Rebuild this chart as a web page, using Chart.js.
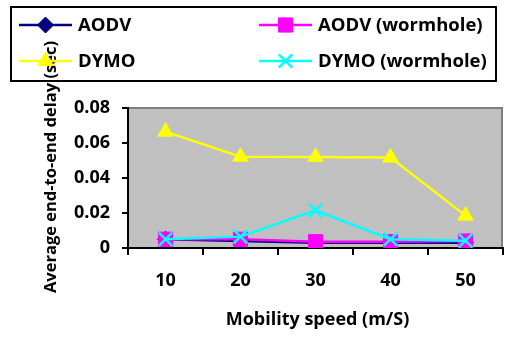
<!DOCTYPE html>
<html>
<head>
<meta charset="utf-8">
<script src="https://cdn.jsdelivr.net/npm/chart.js@4/dist/chart.umd.min.js"></script>
<style>
html,body{margin:0;padding:0;background:#fff;}
#wrap{width:515px;height:338px;position:relative;}
</style>
</head>
<body>
<div id="wrap"><canvas id="c" width="515" height="338"></canvas></div>
<script>
const categories = ['10', '20', '30', '40', '50'];
const aodv = [0.005, 0.004, 0.003, 0.003, 0.003];
const aodvWormhole = [0.005, 0.005, 0.0036, 0.0036, 0.004];
const dymo = [0.0665, 0.0522, 0.052, 0.0517, 0.0185];
const dymoWormhole = [0.005, 0.0065, 0.0215, 0.005, 0.0042];
const yTickValues = [0, 0.02, 0.04, 0.06, 0.08];
const yTickLabels = ['0', '0.02', '0.04', '0.06', '0.08'];
const xTitle = 'Mobility speed (m/S)';
const yTitle = 'Average end-to-end delay (sec)';
const seriesNames = ['AODV', 'AODV (wormhole)', 'DYMO', 'DYMO (wormhole)'];

const FONT = '"Open Sans", Lato, sans-serif';

function ds(label, data, color, style, radius, order) {
  return {
    label, data,
    borderColor: color, backgroundColor: color,
    pointBackgroundColor: color, pointBorderColor: color,
    pointStyle: style, pointRadius: radius, pointHoverRadius: radius,
    pointBorderWidth: style === 'crossRot' ? 2.5 : 1,
    borderWidth: 2.5, tension: 0, fill: false, order
  };
}

const datasets = [
  ds(seriesNames[0], aodv, '#000080', 'rectRot', 8, 4),
  ds(seriesNames[1], aodvWormhole, '#FF00FF', 'rect', 10, 3),
  ds(seriesNames[2], dymo, '#FFFF00', 'triangle', 9, 2),
  ds(seriesNames[3], dymoWormhole, '#00FFFF', 'crossRot', 9.5, 1)
];

function drawMarker(ctx, d, x, y) {
  ctx.save();
  ctx.fillStyle = d.pointBackgroundColor;
  ctx.strokeStyle = d.pointBorderColor;
  ctx.lineWidth = d.pointBorderWidth;
  if (Chart.helpers && Chart.helpers.drawPoint) {
    Chart.helpers.drawPoint(ctx, {pointStyle: d.pointStyle, rotation: 0, radius: d.pointRadius, borderWidth: d.pointBorderWidth}, x, y);
  }
  ctx.restore();
}

const decor = {
  id: 'decor',
  beforeDraw(chart) {
    const {ctx, chartArea: a} = chart;
    ctx.save();
    ctx.fillStyle = '#C0C0C0';
    ctx.fillRect(a.left, a.top, a.right - a.left, a.bottom - a.top);
    ctx.strokeStyle = '#808080';
    ctx.lineWidth = 2;
    ctx.beginPath();
    ctx.moveTo(a.left, a.top);
    ctx.lineTo(a.right - 1, a.top);
    ctx.lineTo(a.right - 1, a.bottom);
    ctx.stroke();
    ctx.restore();
  },
  afterDraw(chart) {
    const {ctx, chartArea: a} = chart;
    ctx.save();
    ctx.fillStyle = '#000';
    ctx.textAlign = 'center';
    ctx.textBaseline = 'middle';
    // x title
    ctx.font = 'bold 18px ' + FONT;
    ctx.fillText(xTitle, (a.left + a.right) / 2 + 2, 320);
    // y title
    ctx.font = 'bold 16.5px ' + FONT;
    ctx.save();
    ctx.translate(51, 167);
    ctx.rotate(-Math.PI / 2);
    ctx.fillText(yTitle, 0, 0);
    ctx.restore();
    // legend box
    ctx.strokeStyle = '#000';
    ctx.lineWidth = 2;
    ctx.strokeRect(11, 7, 485, 74);
    const cols = [19, 259];
    const rows = [25, 61];
    chart.data.datasets.forEach((d, i) => {
      const x0 = cols[i % 2], y = rows[Math.floor(i / 2)];
      ctx.strokeStyle = d.borderColor;
      ctx.lineWidth = 2.5;
      ctx.beginPath();
      ctx.moveTo(x0, y);
      ctx.lineTo(x0 + 53, y);
      ctx.stroke();
      drawMarker(ctx, d, x0 + 26.5, y);
      ctx.fillStyle = '#000';
      ctx.textAlign = 'left';
      ctx.font = 'bold 18.5px ' + FONT;
      ctx.fillText(d.label, x0 + 59, y + 1);
    });
    ctx.restore();
  }
};

new Chart(document.getElementById('c'), {
  type: 'line',
  data: { labels: categories, datasets },
  options: {
    responsive: false,
    animation: false,
    devicePixelRatio: 1,
    layout: { padding: { top: 108, right: 2, left: 0, bottom: 0 } },
    plugins: { legend: { display: false }, tooltip: { enabled: false } },
    scales: {
      x: {
        offset: true,
        grid: { offset: true, drawOnChartArea: false, color: '#000', lineWidth: 2, tickLength: 7 },
        border: { color: '#000', width: 2 },
        ticks: { color: '#000', font: { family: FONT, size: 18, weight: 'bold' }, padding: 15, maxRotation: 0 },
        afterFit(s) { s.height = 90; }
      },
      y: {
        min: 0, max: 0.08,
        afterBuildTicks(s) { s.ticks = yTickValues.map(v => ({ value: v })); },
        grid: { drawOnChartArea: false, color: '#000', lineWidth: 2, tickLength: 6 },
        border: { color: '#000', width: 2 },
        ticks: {
          color: '#000', font: { family: FONT, size: 18, weight: 'bold' }, padding: 12,
          callback(v) { const i = yTickValues.indexOf(v); return i >= 0 ? yTickLabels[i] : ''; }
        },
        afterFit(s) { s.width = 128; }
      }
    }
  },
  plugins: [decor]
});
</script>
</body>
</html>
